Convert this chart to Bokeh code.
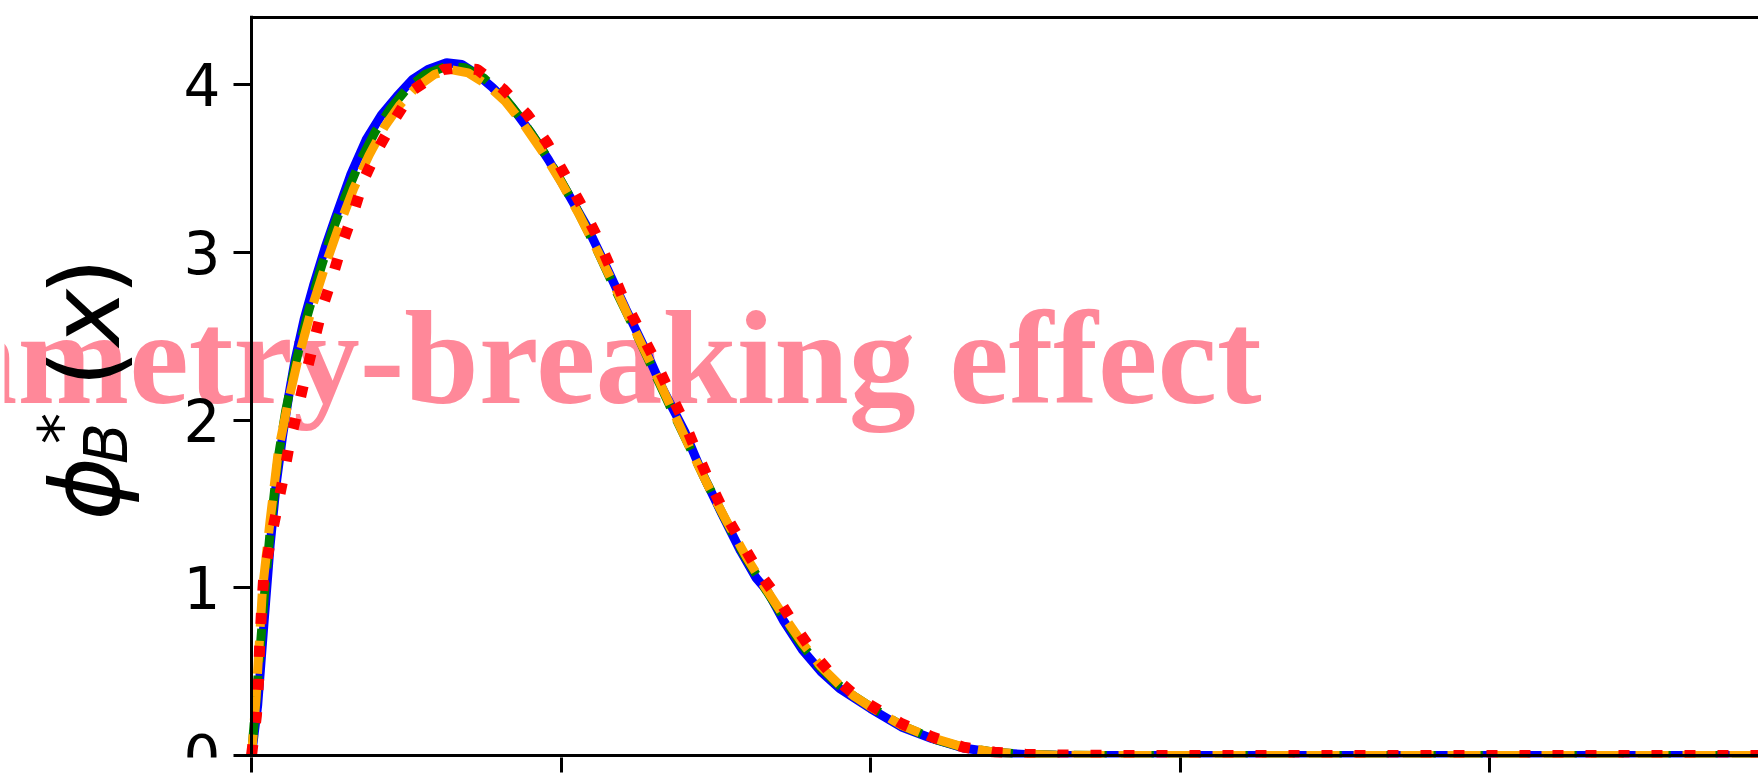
import math
from bokeh.plotting import figure
from bokeh.models import Range1d, FixedTicker, Label
from bokeh.embed import file_html
from bokeh.resources import INLINE

# ---- data ----
x_ticks = [0, 1, 2, 3, 4]
y_ticks = [0, 1, 2, 3, 4]

blue_x = [0.0, 0.02, 0.04, 0.06, 0.08, 0.10, 0.12, 0.14, 0.17, 0.20, 0.24, 0.27, 0.32, 0.37, 0.42,
          0.47, 0.52, 0.57, 0.63, 0.68, 0.73, 0.78, 0.84, 0.90, 0.96, 1.02, 1.085, 1.15, 1.21,
          1.27, 1.33, 1.40, 1.457, 1.52, 1.58, 1.63, 1.667, 1.72, 1.78, 1.84, 1.90, 1.95, 2.0,
          2.1, 2.2, 2.3, 2.4, 2.5, 2.6, 2.8, 3.0, 3.5, 4.0, 4.9]
blue_y = [0.0, 0.30, 0.78, 1.25, 1.62, 1.90, 2.14, 2.35, 2.60, 2.80, 3.04, 3.20, 3.46, 3.67, 3.82,
          3.93, 4.03, 4.09, 4.13, 4.12, 4.06, 3.98, 3.87, 3.72, 3.55, 3.36, 3.15, 2.90, 2.66,
          2.43, 2.18, 1.93, 1.68, 1.44, 1.22, 1.06, 0.98, 0.80, 0.63, 0.50, 0.40, 0.34, 0.28,
          0.17, 0.10, 0.045, 0.018, 0.006, 0.002, 0.0, 0.0, 0.0, 0.0, 0.0]

green_x = [0.0, 0.02, 0.04, 0.06, 0.085, 0.11, 0.14, 0.18, 0.22, 0.26, 0.30, 0.35, 0.40, 0.45,
           0.50, 0.56, 0.63, 0.69, 0.75, 0.81, 0.87, 0.93, 0.99, 1.05, 1.11, 1.17, 1.23, 1.29,
           1.35, 1.41, 1.47, 1.53, 1.59, 1.65, 1.71, 1.77, 1.83, 1.89, 1.95, 2.0, 2.1, 2.2,
           2.3, 2.4, 2.5, 2.6, 2.8, 4.9]
green_y = [0.0, 0.45, 0.92, 1.33, 1.76, 2.05, 2.32, 2.62, 2.88, 3.12, 3.32, 3.54, 3.72, 3.86,
           3.97, 4.06, 4.11, 4.10, 4.04, 3.94, 3.80, 3.64, 3.46, 3.26, 3.04, 2.80, 2.57, 2.33,
           2.09, 1.86, 1.63, 1.41, 1.20, 1.02, 0.85, 0.68, 0.54, 0.43, 0.35, 0.29, 0.18, 0.10,
           0.048, 0.02, 0.007, 0.002, 0.0, 0.0]

orange_x = [0.0, 0.015, 0.035, 0.06, 0.087, 0.12, 0.15, 0.197, 0.24, 0.28, 0.33, 0.38, 0.43,
            0.48, 0.53, 0.59, 0.643, 0.70, 0.76, 0.82, 0.88, 0.94, 1.00, 1.06, 1.12, 1.18, 1.24,
            1.30, 1.36, 1.42, 1.48, 1.54, 1.60, 1.66, 1.72, 1.78, 1.84, 1.90, 1.95, 2.0, 2.1,
            2.2, 2.3, 2.4, 2.5, 2.6, 2.8, 4.9]
orange_y = [0.0, 0.35, 0.98, 1.40, 1.82, 2.12, 2.36, 2.68, 2.93, 3.14, 3.38, 3.58, 3.75,
            3.88, 3.98, 4.06, 4.09, 4.07, 4.00, 3.90, 3.76, 3.60, 3.42, 3.22, 3.00, 2.77, 2.53,
            2.30, 2.06, 1.82, 1.59, 1.38, 1.18, 1.00, 0.83, 0.67, 0.53, 0.42, 0.35, 0.29, 0.18,
            0.105, 0.05, 0.02, 0.007, 0.002, 0.0, 0.0]

red_x = [0.0, 0.016, 0.023, 0.026, 0.032, 0.039, 0.058, 0.08, 0.103, 0.123, 0.149, 0.174, 0.229,
         0.261, 0.293, 0.330, 0.362, 0.41, 0.465, 0.524, 0.62, 0.675, 0.73, 0.815, 0.892, 0.956,
         1.01, 1.063, 1.112, 1.157, 1.20, 1.25, 1.30, 1.35, 1.40, 1.44, 1.483, 1.53, 1.586,
         1.64, 1.70, 1.76, 1.82, 1.88, 1.95, 2.0, 2.1, 2.2, 2.3, 2.4, 2.5, 2.6, 2.8, 4.9]
red_y = [0.0, 0.24, 0.45, 0.64, 0.85, 1.05, 1.25, 1.45, 1.66, 1.86, 2.06, 2.26, 2.67,
         2.85, 3.05, 3.24, 3.43, 3.62, 3.80, 3.97, 4.09, 4.10, 4.09, 3.97, 3.82, 3.65,
         3.47, 3.29, 3.11, 2.92, 2.73, 2.55, 2.37, 2.17, 1.98, 1.80, 1.62, 1.44, 1.26,
         1.09, 0.94, 0.76, 0.60, 0.47, 0.36, 0.30, 0.19, 0.11, 0.05, 0.02, 0.008, 0.003, 0.0, 0.0]

overlay_text = "Symmetry-breaking effect"

# axis limits of the visible window
x_min, x_max = 0.0, 4.869
y_min, y_max = 0.0, 4.40

# ---- layout constants (pixels) ----
W, H = 1758, 776
FL = 4            # frame left
FB_BORDER = 19    # bottom border
FT_BORDER = 15    # top border
AX0 = 251         # where x = 0 sits
PX_PER_X = (W - AX0) / (x_max - x_min)
frame_h = H - FB_BORDER - FT_BORDER
pad = 2.0         # px of frame beyond the spines
PX_PER_Y = (frame_h - 2 * pad) / (y_max - y_min)

xr = Range1d(x_min - (AX0 - FL) / PX_PER_X, x_max)
yr = Range1d(y_min - pad / PX_PER_Y, y_max + pad / PX_PER_Y)

p = figure(width=W, height=H, output_backend="svg", toolbar_location=None,
           x_range=xr, y_range=yr,
           min_border_left=FL, min_border_right=0, min_border_top=FT_BORDER,
           min_border_bottom=FB_BORDER)
p.outline_line_color = None
p.grid.visible = False
p.background_fill_color = "white"
p.border_fill_color = "white"

# y axis drawn at x = 0
ya = p.yaxis[0]
ya.fixed_location = 0
ya.ticker = FixedTicker(ticks=y_ticks)
ya.major_tick_out = 18
ya.major_tick_in = 0
ya.minor_tick_line_color = None
ya.axis_line_width = 3
ya.major_tick_line_width = 3
ya.axis_line_color = "black"
ya.major_tick_line_color = "black"
ya.major_label_text_font = "DejaVu Sans"
ya.major_label_text_font_size = "58px"
ya.major_label_text_color = "black"
ya.major_label_standoff = 13
ya.axis_label = "\u00a0"
ya.axis_label_text_font_size = "10px"
ya.axis_label_text_color = "white"
ya.axis_label_standoff = -85

xa = p.xaxis[0]
xa.ticker = FixedTicker(ticks=x_ticks)
xa.major_tick_out = 15
xa.major_tick_in = 0
xa.minor_tick_line_color = None
xa.axis_line_color = None
xa.major_tick_line_width = 3
xa.major_tick_line_color = "black"
xa.major_label_text_font_size = "0px"
xa.major_label_standoff = 0

# overlay watermark text (beneath the curves)
p.add_layout(Label(x=1257, y=400, x_units="screen", y_units="screen", text=overlay_text,
                   text_align="right", text_baseline="alphabetic",
                   text_font="Liberation Serif", text_font_style="bold",
                   text_font_size="134px", text_color="#ff8899", level="underlay"))

# curves
p.line(blue_x, blue_y, line_color="blue", line_width=9)
p.line(green_x, green_y, line_color="green", line_width=9, line_dash="33 14")
p.line(orange_x, orange_y, line_color="orange", line_width=9, line_dash="33 14", line_dash_offset=12)
p.line(red_x, red_y, line_color="red", line_width=11, line_dash="11 22")

# spines (bottom and top), spanning the axes from x = 0
p.segment(x0=[x_min, x_min], y0=[y_min, y_max], x1=[x_max, x_max], y1=[y_min, y_max],
          line_color="black", line_width=3)

# y-axis label  phi_B^*(x), rotated
rot = math.pi / 2
def lab(txt, x, y, size, style="italic"):
    p.add_layout(Label(x=x, y=y, x_units="screen", y_units="screen", text=txt, angle=rot,
                       text_align="center", text_baseline="alphabetic", text_font="DejaVu Sans",
                       text_font_style=style, text_font_size=size, text_color="black"))

lab("ϕ", 81, 269, "96px")
lab("B", 101, 314, "60px")
lab("*", 57, 329, "62px", style="normal")
lab("(", 81, 389, "96px", style="normal")
lab("x", 81, 440, "96px")
lab(")", 81, 481, "96px", style="normal")

open("out.html", "w").write(file_html(p, INLINE))
